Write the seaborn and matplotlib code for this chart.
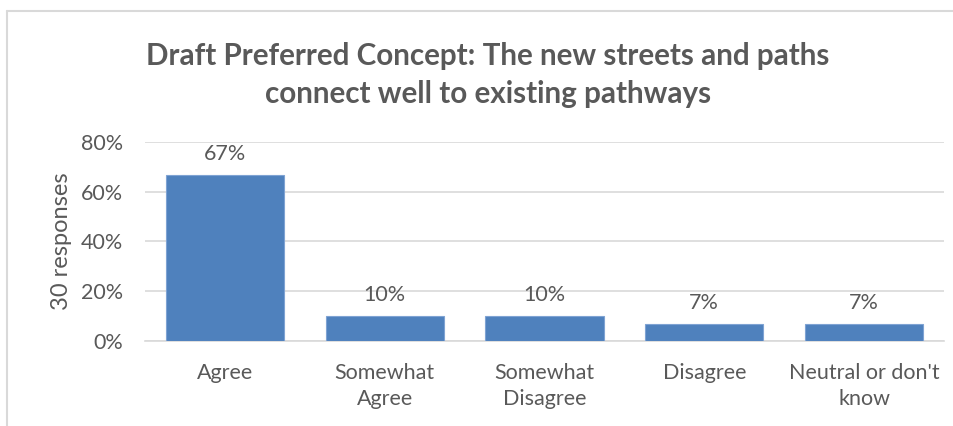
import matplotlib
matplotlib.use("Agg")
import matplotlib.pyplot as plt
import seaborn as sns
import pandas as pd
from matplotlib.lines import Line2D

categories = ["Agree", "Somewhat\nAgree", "Somewhat\nDisagree", "Disagree", "Neutral or don't\nknow"]
values = [66.67, 10.0, 10.0, 6.67, 6.67]
value_labels = ["67%", "10%", "10%", "7%", "7%"]
yticks = [0, 20, 40, 60, 80]
ytick_labels = ["0%", "20%", "40%", "60%", "80%"]

sns.set_style("white")
plt.rcParams['font.family'] = ['Lato', 'DejaVu Sans']

df = pd.DataFrame({"cat": categories, "val": values})
txt = "#595959"

fig = plt.figure(figsize=(9.54, 4.26), dpi=100)
ax = fig.add_axes([145/954, 85/426, 799/954, 199/426])

sns.barplot(data=df, x="cat", y="val", color="#4F81BD", width=0.74,
            edgecolor="#7FA3D3", linewidth=0.8, saturation=1, ax=ax, zorder=3)

ax.set_ylim(0, 80)
ax.set_yticks(yticks)
ax.set_yticklabels(ytick_labels)
ax.set_xlim(-0.5, 4.5)
ax.yaxis.grid(True, color="#D9D9D9", linewidth=1.2, zorder=0)
ax.set_axisbelow(True)
for s in ["top", "right", "left"]:
    ax.spines[s].set_visible(False)
ax.spines["bottom"].set_color("#D9D9D9")
ax.spines["bottom"].set_linewidth(1.2)
ax.tick_params(length=0, labelsize=15.5, labelcolor=txt)
ax.tick_params(axis="y", pad=16)
ax.tick_params(axis="x", pad=16)
for t in ax.get_xticklabels():
    t.set_linespacing(1.35)
ax.set_xlabel("")
ax.set_ylabel("30 responses", fontsize=17, color=txt, labelpad=6)

for i, (v, lab) in enumerate(zip(values, value_labels)):
    ax.text(i, v + 4.5, lab, ha="center", va="bottom", fontsize=15.5, color=txt)

fig.text(488/954, 1 - 75/426, "Draft Preferred Concept: The new streets and paths\nconnect well to existing pathways",
         ha="center", va="center", fontsize=21.3, fontweight="bold", color=txt, linespacing=1.45)

fig.add_artist(Line2D([7/954, 7/954], [0, 1 - 11/426], color="#D9D9D9", linewidth=1.5, transform=fig.transFigure))
fig.add_artist(Line2D([7/954, 1], [1 - 11/426, 1 - 11/426], color="#D9D9D9", linewidth=1.5, transform=fig.transFigure))

fig.savefig("out.png", dpi=100, facecolor="white")
